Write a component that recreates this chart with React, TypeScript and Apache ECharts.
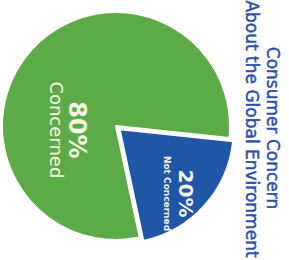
import React, { useEffect, useRef } from "react";
import * as echarts from "echarts";

const categories = ["Not Concerned", "Concerned"];
const values = [20, 80];
const colors = ["#1f56a5", "#5cab47"];
const titleLines = ["Consumer Concern", "About the Global Environment"];
// screen-space label shift [right, down]
const labelShift = [
  [13, 24],
  [-4, 44],
];

export default function App() {
  const ref = useRef<HTMLDivElement>(null);
  useEffect(() => {
    if (!ref.current) return;
    const chart = echarts.init(ref.current, null, { renderer: "svg" });
    const font = "DejaVu Sans";
    const titleStyle = (t: string) => ({
      text: t,
      font: `17px '${font}'`,
      fill: "#2f50a6",
      stroke: "#2f50a6",
      lineWidth: 0.5,
      align: "center",
      verticalAlign: "middle",
    });
    chart.setOption({
      animation: false,
      backgroundColor: "#ffffff",
      graphic: [
        { type: "text", x: 273, y: 128, rotation: -Math.PI / 2, style: titleStyle(titleLines[0]) },
        { type: "text", x: 252, y: 129, rotation: -Math.PI / 2, style: titleStyle(titleLines[1]) },
      ],
      series: [
        {
          type: "pie",
          center: [116, 126],
          radius: [0, 114],
          startAngle: -6,
          clockwise: true,
          selectedMode: "single",
          selectedOffset: 5,
          itemStyle: { borderColor: "#ffffff", borderWidth: 2 },
          emphasis: { disabled: true },
          label: {
            show: true,
            position: "inside",
            rotate: -90,
            overflow: "none",
            fontFamily: font,
            color: "#f6f4e2",
            formatter: (p: any) =>
              p.dataIndex === 0
                ? `{bs|${p.value}%}\n{ss|${p.name}}`
                : `{bb|${p.value}%}\n{sb|${p.name}}`,
            rich: {
              bb: { fontSize: 24, fontWeight: "bold", fontFamily: font, color: "#f6f4e2", lineHeight: 21, align: "center" },
              sb: { fontSize: 18, fontFamily: font, color: "#f6f4e2", lineHeight: 19, align: "center" },
              bs: { fontSize: 20, fontWeight: "bold", fontFamily: font, color: "#f6f4e2", lineHeight: 20, align: "center" },
              ss: { fontSize: 9, fontWeight: "bold", fontFamily: font, color: "#f6f4e2", lineHeight: 17, align: "center" },
            },
          },
          labelLayout: (p: any) => ({ dx: labelShift[p.dataIndex][1], dy: -labelShift[p.dataIndex][0] }),
          labelLine: { show: false },
          data: categories.map((c, i) => ({
            name: c,
            value: values[i],
            selected: i === 0,
            itemStyle: { color: colors[i] },
          })),
        },
      ],
    });
    return () => chart.dispose();
  }, []);
  return (
    <div
      ref={ref}
      style={{ position: "fixed", left: 0, top: 0, width: 289, height: 260 }}
    />
  );
}
